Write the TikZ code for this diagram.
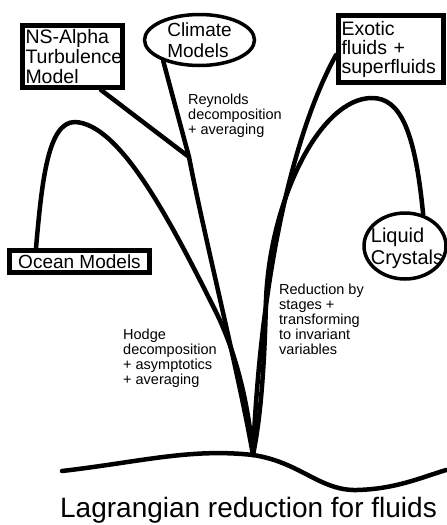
\documentclass[tikz,border=0pt]{standalone}
\usepackage{fontspec}
\setmainfont{Liberation Sans}
\usetikzlibrary{shapes.geometric}

\begin{document}
\begin{tikzpicture}[x=1pt,y=-1pt,
  box/.style={draw,line width=5pt,inner xsep=3pt,inner ysep=0pt,align=left},
  elli/.style={draw,ellipse,line width=3.5pt,inner sep=0pt},
  stem/.style={line width=4.5pt,line cap=round,line join=round},
  note/.style={anchor=north west,inner sep=0pt,align=left,font=\fontsize{14.5}{15}\selectfont}]
  \useasboundingbox (0,0) rectangle (447,525);
  \node[box,minimum width=100pt,minimum height=62pt,text width=94pt,
    font=\fontsize{19.5}{20}\selectfont] (ns) at (72.5,56.5) {NS-Alpha\\Turbulence\\Model};
  \node[box,minimum width=105pt,minimum height=67pt,text width=99pt,
    font=\fontsize{19.5}{19}\selectfont] (exotic) at (391,49) {Exotic\\fluids +\\superfluids};
  \node[box,minimum width=140pt,minimum height=22pt,
    font=\fontsize{19}{20}\selectfont] (ocean) at (79.5,261.5) {Ocean Models};
  \node[elli,minimum width=110pt,minimum height=51pt] (climate) at (199.5,40) {};
  \node[align=left,inner sep=0pt,font=\fontsize{19}{21}\selectfont] (climatetext) at (climate) {Climate\\Models};
  \node[elli,minimum width=82pt,minimum height=66pt] (liquid) at (405,246) {};
  \node[align=left,inner sep=0pt,font=\fontsize{20}{22}\selectfont] (liquidtext) at (407,248) {Liquid\\Crystals};
  \coordinate (root) at (253,455);
  \coordinate (join) at (189,157);
  \draw[stem] ([xshift=29pt]ocean.north west) .. controls (42,180) and (48,122) .. (75,122)
    .. controls (120,124) and (170,220) .. (215,310) .. controls (235,350) and (248,400) .. (root);
  \draw[stem] (climate.210) -- (join) .. controls (205,240) and (238,370) .. (root);
  \draw[stem] ([xshift=81pt]ns.south west) -- (join);
  \draw[stem] ([yshift=-6pt]exotic.west) .. controls (300,120) and (262,250) .. (root);
  \draw[stem] (liquid.60) .. controls (415,130) and (400,98) .. (372,98)
    .. controls (320,98) and (270,200) .. (266,300) .. controls (264,390) and (258,430) .. (root);
  \draw[stem] (62,471) .. controls (140,462) and (190,448) .. (root)
    .. controls (300,462) and (320,491) .. (357,490) .. controls (395,489) and (420,478) .. (446,470);
  \node[note] (reynolds) at (188,94) {Reynolds\\decomposition\\+ averaging};
  \node[note] (hodge) at (123,329) {Hodge\\decomposition\\+ asymptotics\\+ averaging};
  \node[note] (reduction) at (279,284) {Reduction by\\stages +\\transforming\\to invariant\\variables};
  \node[anchor=base,inner sep=0pt,font=\fontsize{28}{30}\selectfont] (title) at (248.5,517) {Lagrangian reduction for fluids};
\end{tikzpicture}
\end{document}
